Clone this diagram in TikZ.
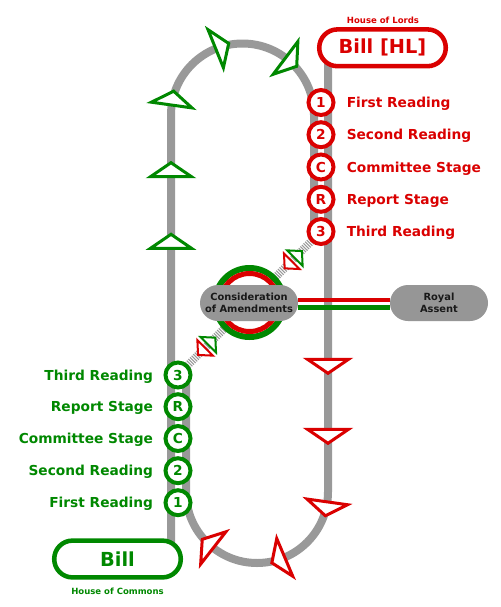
\documentclass[tikz,border=0pt]{standalone}
\usepackage{fontspec}
\setmainfont{DejaVu Sans}
\definecolor{lred}{RGB}{218,0,0}
\definecolor{cgreen}{RGB}{0,136,0}
\definecolor{trackgray}{RGB}{153,153,153}
\definecolor{boxgray}{RGB}{150,150,150}
\definecolor{darktext}{RGB}{25,25,25}
\pgfdeclarelayer{background}
\pgfsetlayers{background,main}
\begin{document}
\begin{tikzpicture}[x=0.75pt,y=-0.75pt,
  trackline/.style={draw=trackgray,line width=6pt},
  hatchline/.style={draw=trackgray,line width=6pt,dash pattern=on 0.8pt off 0.9pt},
  gtri/.style={draw=cgreen,fill=white,line width=2.25pt,line join=miter},
  rtri/.style={draw=lred,fill=white,line width=2.25pt,line join=miter},
  gsmall/.style={draw=cgreen,fill=white,line width=1.5pt,line join=miter},
  rsmall/.style={draw=lred,fill=white,line width=1.5pt,line join=miter},
  stagefont/.style={font=\bfseries\fontsize{10.3}{12}\selectfont},
  lstage/.style={circle,draw=lred,text=lred,fill=white,line width=3pt,minimum size=18.75pt,inner sep=0pt,stagefont},
  cstage/.style={circle,draw=cgreen,text=cgreen,fill=white,line width=3pt,minimum size=18.75pt,inner sep=0pt,stagefont},
  llabel/.style={anchor=base west,inner sep=0pt,text=lred,stagefont},
  clabel/.style={anchor=base east,inner sep=0pt,text=cgreen,stagefont},
  pill/.style={fill=white,line width=3.4pt,rounded corners=13.7pt,minimum width=94.9pt,minimum height=27.6pt,inner sep=0pt,font=\bfseries\fontsize{14.5}{16}\selectfont},
  graybox/.style={fill=boxgray,rounded corners=13.5pt,minimum width=73.5pt,minimum height=27pt,inner sep=0pt,align=center,text=darktext,font=\bfseries\fontsize{7.4}{8.6}\selectfont},
  housefont/.style={inner sep=0pt,font=\bfseries\fontsize{6.4}{7}\selectfont}
]
\useasboundingbox (0,0) rectangle (500,607);
\begin{pgfonlayer}{background}
\fill[white] (0,0) rectangle (500,607);
\end{pgfonlayer}

% ---------- boxes ----------
\node[pill,draw=lred,text=lred] (hl) at (382.5,47.8) {Bill [HL]};
\node[housefont,text=lred] (lords) at (383,20) {House of Lords};
\node[pill,draw=cgreen,text=cgreen] (bill) at (117.5,559) {Bill};
\node[housefont,text=cgreen] (commons) at (117.5,591) {House of Commons};

% ---------- consideration ring ----------
\draw[cgreen,line width=4.5pt,fill=white] (249.5,302.5) circle[radius=34.5];
\draw[lred,line width=3.75pt] (249.5,302.5) circle[radius=29];
\node[graybox] (cons) at (249,303) {Consideration\\of Amendments};
\node[graybox] (royal) at (439,303) {Royal\\Assent};
\draw[lred,line width=3.5pt] ([yshift=2.25pt]cons.east) -- ([yshift=2.25pt]royal.west);
\draw[cgreen,line width=3.75pt] ([yshift=-3.4pt]cons.east) -- ([yshift=-3.4pt]royal.west);

% ---------- Lords stages ----------
\node[lstage] (l1) at (321,102.5) {1};
\node[lstage] (l2) at (321,134.7) {2};
\node[lstage] (lC) at (321,167) {C};
\node[lstage] (lR) at (321,199.3) {R};
\node[lstage] (l3) at (321,231.5) {3};
\node[llabel] (l1t) at (346.5,107.5) {First Reading};
\node[llabel] (l2t) at (346.5,139.7) {Second Reading};
\node[llabel] (lCt) at (346.5,172) {Committee Stage};
\node[llabel] (lRt) at (346.5,204.3) {Report Stage};
\node[llabel] (l3t) at (346.5,236.5) {Third Reading};

% ---------- Commons stages ----------
\node[cstage] (c3) at (178,375) {3};
\node[cstage] (cR) at (178,406.7) {R};
\node[cstage] (cC) at (178,438.5) {C};
\node[cstage] (c2) at (178,470.7) {2};
\node[cstage] (c1) at (178,502.7) {1};
\node[clabel] (c3t) at (153.3,380) {Third Reading};
\node[clabel] (cRt) at (153.3,411.7) {Report Stage};
\node[clabel] (cCt) at (153.3,443.5) {Committee Stage};
\node[clabel] (c2t) at (153.3,475.7) {Second Reading};
\node[clabel] (c1t) at (153.3,507.7) {First Reading};

% ---------- tracks ----------
\begin{pgfonlayer}{background}
  \draw[trackline] (bill.center -| 171,0) -- (171,115)
      arc[start angle=180,end angle=360,radius=71.5] -- (l3.center -| 314,0);
  \draw[trackline] (hl.center -| 328,0) -- (328,492)
      arc[start angle=0,end angle=180,radius=71] -- (c3.center -| 186,0);
  \draw[hatchline] (c3.center) -- (l3.center);
\end{pgfonlayer}

% ---------- direction triangles ----------
\foreach \a in {172,112,53}
  \draw[gtri,shift={(242.5,115)},rotate=\a] (51,0) -- (92,0) -- (71.5,14) -- cycle;
\foreach \a in {-8,-67,-128}
  \draw[rtri,shift={(257,492)},rotate=\a] (50.5,0) -- (91.5,0) -- (71,14) -- cycle;
\foreach \y in {176.7,248.3}
  \draw[gtri] (150.5,\y) -- (191.5,\y) -- (171,\y-14) -- cycle;
\foreach \y in {359.3,429.3}
  \draw[rtri] (307.5,\y) -- (348.5,\y) -- (328,\y+14) -- cycle;

\foreach \p in {(293.3,259.7),(206.7,346.3)} {
  \draw[gsmall,shift={\p},rotate=45] (2.2,-11) -- (2.2,11) -- (12.2,0) -- cycle;
  \draw[rsmall,shift={\p},rotate=45] (-2.2,-11) -- (-2.2,11) -- (-12.2,0) -- cycle;
}
\end{tikzpicture}
\end{document}
